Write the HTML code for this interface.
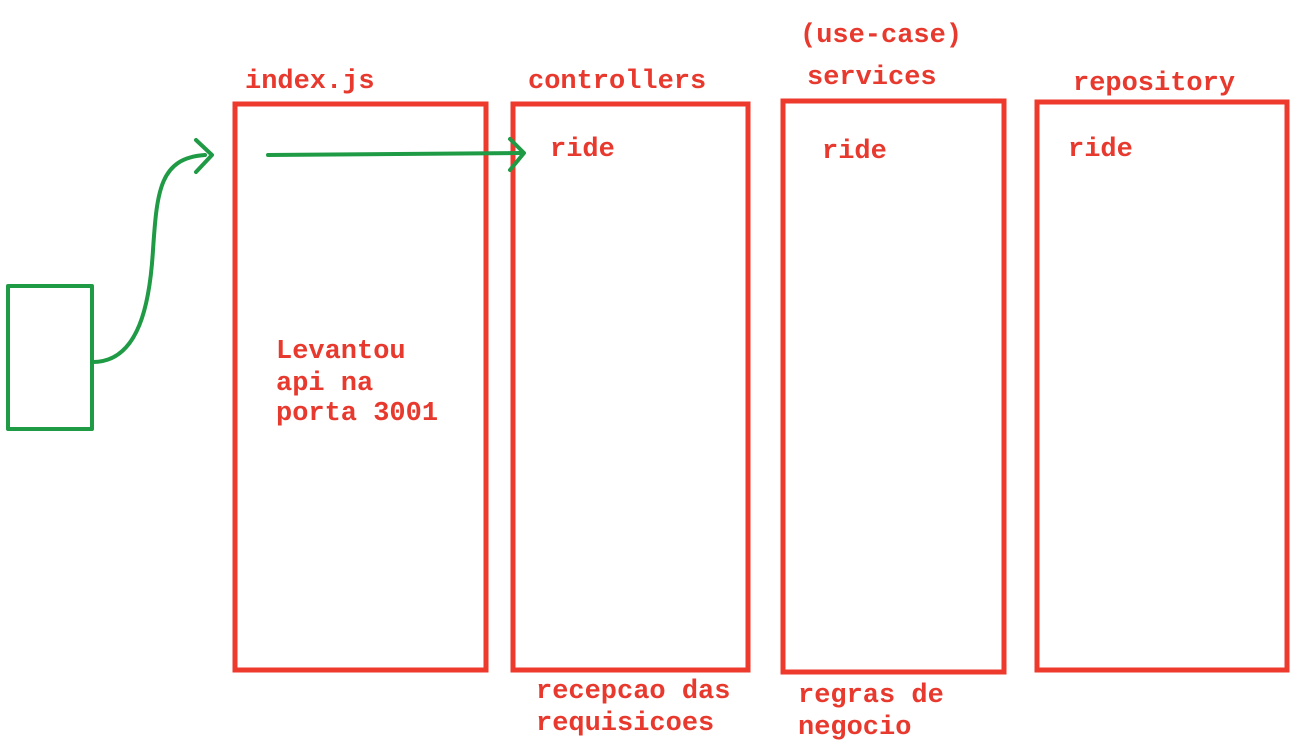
<!DOCTYPE html>
<html><head><style>
html,body{margin:0;padding:0;background:#fff;}
svg{display:block}
text{font-family:"Liberation Mono",monospace;font-weight:bold;font-size:27px;fill:#e8392e;}
</style></head><body>
<svg width="1306" height="749" viewBox="0 0 1306 749">
<g fill="none" stroke="#ee3a2c" stroke-width="5">
<rect x="235" y="104" width="251" height="566"/>
<rect x="513" y="104" width="235" height="566"/>
<rect x="783" y="101" width="221" height="571"/>
<rect x="1037" y="102" width="250" height="568"/>
</g>
<g fill="none" stroke="#1f9a45" stroke-width="4" stroke-linecap="round" stroke-linejoin="round">
<rect x="8" y="286" width="84" height="143"/>
<path d="M93 362 C140 362 150 300 153 250 C157 190 160 158 205 155"/>
<path d="M196 140 L212 155 L196 172"/>
<path d="M268 155 L522 153"/>
<path d="M510 139 L524 153 L510 170"/>
</g>
<text x="245" y="88">index.js</text>
<text x="528" y="88">controllers</text>
<text x="800" y="42">(use-case)</text>
<text x="807" y="84">services</text>
<text x="1073" y="90">repository</text>
<text x="550" y="156">ride</text>
<text x="822" y="158">ride</text>
<text x="1068" y="156">ride</text>
<text x="276" y="358">Levantou</text>
<text x="276" y="390">api na</text>
<text x="276" y="420">porta 3001</text>
<text x="536" y="698">recepcao das</text>
<text x="536" y="730">requisicoes</text>
<text x="798" y="702">regras de</text>
<text x="798" y="734">negocio</text>
</svg>
</body></html>
